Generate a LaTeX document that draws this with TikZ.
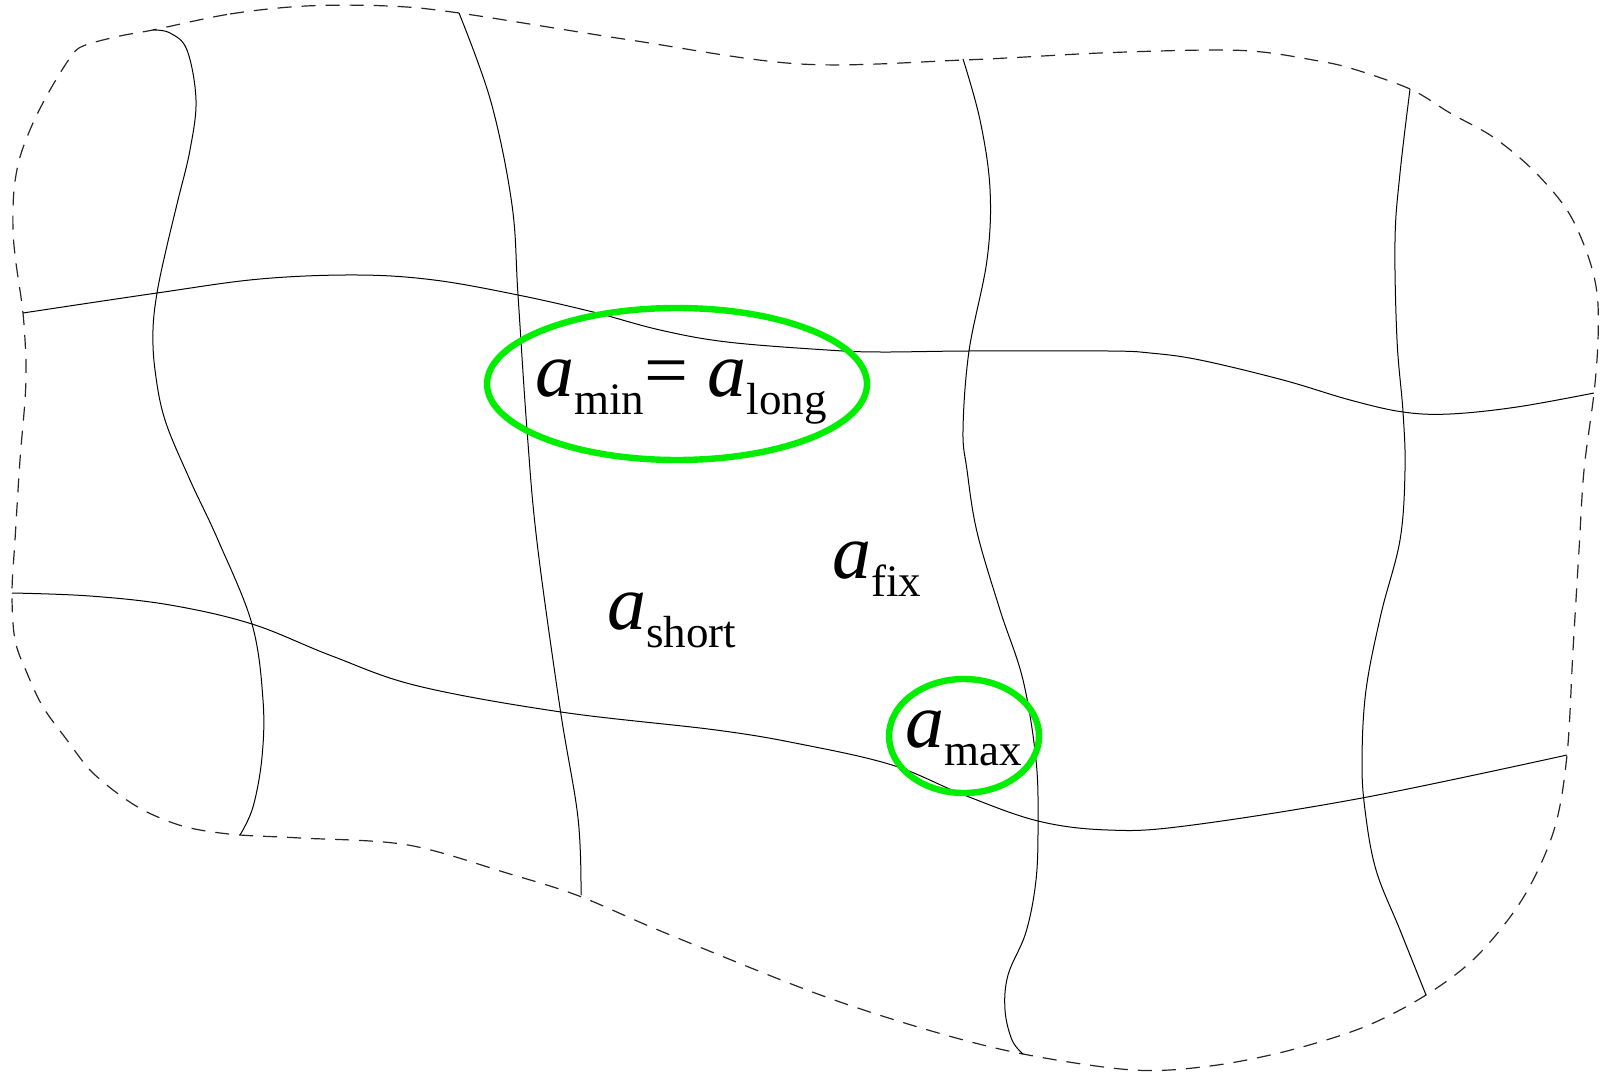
\documentclass[tikz,border=0pt]{standalone}
\usepackage{fontspec}
\setmainfont{Liberation Serif}
\definecolor{hl}{RGB}{0,238,0}
\newcommand{\asub}[1]{\textit{a}\raisebox{-9pt}{\fontsize{22.5}{24}\selectfont #1}}
\begin{document}
\begin{tikzpicture}[x=0.5pt,y=-0.5pt,
  gridline/.style={line width=0.5pt, black},
  rim/.style={line width=0.6pt, black!85, dash pattern=on 7pt off 5pt},
  ringhl/.style={draw=hl, line width=3.2pt},
  lbl/.style={inner sep=0pt, anchor=base west, font=\fontsize{39}{40}\selectfont}]
\useasboundingbox (0,0) rectangle (1604,1074);
% boundary
\draw[rim] plot[smooth cycle, tension=0.55] coordinates {
 (153,30) (230,14) (306,6) (388,6) (459,13) (630,40) (800,64) (964,60)
 (1100,53) (1210,50) (1262,52) (1313,60) (1350,68) (1410,89) (1450,113) (1493,137)
 (1533,170) (1567,210) (1587,253) (1597,293) (1598,340) (1594,393) (1584,470)
 (1579,550) (1573,650) (1567,755) (1554,830)
 (1523,898) (1477,956) (1426,995) (1364,1027) (1287,1051) (1210,1066) (1133,1070)
 (1023,1054) (928,1030) (815,993) (663,932) (579,896) (510,874) (408,845) (300,838)
 (240,835) (200,830) (173,823) (143,810) (117,793) (90,770) (67,740) (43,707)
 (27,673) (15,640) (12,593) (15,540) (20,460) (25,400) (26,363) (23,313)
 (16,263) (13,230) (14,190) (20,157) (33,123) (50,90) (70,58) (83,46) (120,36)};
% vertical lines
\draw[gridline] plot[smooth, tension=0.6] coordinates {
 (153,30) (170,33) (187,50) (196,100) (190,150) (178,200) (166,250) (157,293)
 (153,330) (155,370) (165,420) (190,480) (218,540) (252,624) (263,700) (262,757)
 (253,807) (240,835)};
\draw[gridline] plot[smooth, tension=0.6] coordinates {
 (459,13) (491,102) (512,205) (518,295) (527,430) (537,542) (560,708) (578,818) (581,895)};
\draw[gridline] plot[smooth, tension=0.6] coordinates {
 (963,59) (980,120) (990,189) (987,260) (969,351) (963,430) (967,470) (977,532)
 (1000,610) (1023,680) (1036,760) (1038,823) (1036,880) (1026,932) (1008,975)
 (1005,1010) (1012,1040) (1023,1054)};
\draw[gridline] plot[smooth, tension=0.6] coordinates {
 (1410,89) (1400,173) (1395,240) (1397,340) (1403,412) (1405,470) (1400,540)
 (1381,614) (1366,690) (1362,760) (1365,810) (1376,870) (1400,930) (1426,995)};
% horizontal lines
\draw[gridline] plot[smooth, tension=0.6] coordinates {
 (23,313) (157,293) (260,279) (357,275) (434,280) (518,295) (593,312) (660,330)
 (727,342) (827,350) (880,352) (969,351) (1108,351) (1150,353) (1200,360)
 (1283,380) (1350,400) (1403,412) (1450,414) (1517,407) (1594,393)};
\draw[gridline] plot[smooth, tension=0.6] coordinates {
 (12,593) (90,596) (170,605) (252,624) (332,656) (418,686)
 (561,712) (716,730) (800,744) (892,765) (964,795) (1038,821) (1108,830) (1185,826)
 (1362,798) (1567,755)};
% highlight rings
\draw[ringhl] (677,384) ellipse [x radius=95pt, y radius=38pt];
\draw[ringhl] (964,736) ellipse [x radius=37.5pt, y radius=28.5pt];
% labels
\node[lbl] (amin) at (535,397) {\asub{min}= \asub{long}};
\node[lbl] (ashort) at (607,629) {\asub{short}};
\node[lbl] (afix) at (832,578) {\asub{fix}};
\node[lbl] (amax) at (905,747) {\asub{max}};
\end{tikzpicture}
\end{document}
